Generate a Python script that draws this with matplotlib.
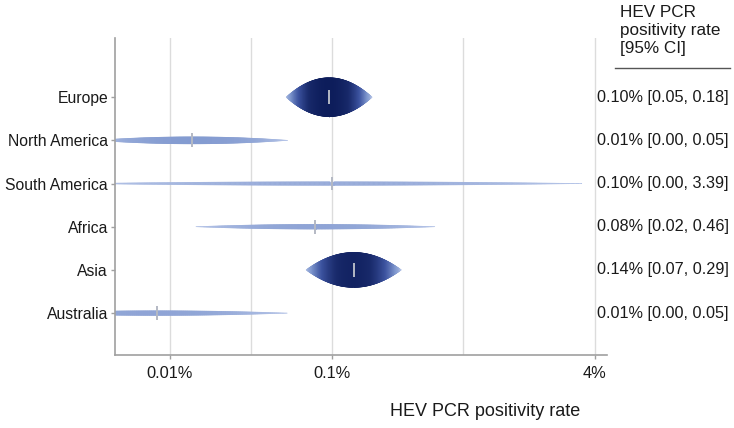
import numpy as np
import matplotlib
matplotlib.use("Agg")
import matplotlib.pyplot as plt
from matplotlib.collections import PolyCollection
from matplotlib.colors import LinearSegmentedColormap
from matplotlib.lines import Line2D
from matplotlib.ticker import FixedLocator, NullFormatter
from matplotlib.transforms import blended_transform_factory

plt.rcParams['font.family'] = ['Liberation Sans', 'DejaVu Sans']

# data (percent)
regions = ['Europe', 'North America', 'South America', 'Africa', 'Asia', 'Australia']
est_pct = [0.096, 0.0137, 0.10, 0.079, 0.136, 0.0083]
lower_pct = [0.052, 0.0035, 0.0029, 0.0145, 0.070, 0.0013]
upper_pct = [0.176, 0.053, 3.39, 0.43, 0.27, 0.053]
weights = [1.0, 0.18, 0.09, 0.12, 0.90, 0.12]
ci_labels = ['0.10% [0.05, 0.18]', '0.01% [0.00, 0.05]', '0.10% [0.00, 3.39]',
             '0.08% [0.02, 0.46]', '0.14% [0.07, 0.29]', '0.01% [0.00, 0.05]']
tick_pct = [0.01, 0.1, 4]
tick_labels = ['0.01%', '0.1%', '4%']


def logit(p):
    return np.log(p / (1 - p))


def expit(u):
    return 1 / (1 + np.exp(-u))


cmap = LinearSegmentedColormap.from_list(
    'drops', [(0.0, '#b6c5e8'), (0.1, '#92a7d7'), (0.2, '#8098cf'),
              (0.5, '#3d54a0'), (0.8, '#18296a'), (1.0, '#0d1d5b')],
)

fig = plt.figure(figsize=(7.34, 4.28), dpi=100)
ax = fig.add_axes([115 / 734, 1 - 355 / 428, (607 - 115) / 734, (355 - 38) / 428])
ax.set_xscale('logit')

ypos = np.arange(len(regions), 0, -1)
max_half = 0.45

polys, vals = [], []
for i in range(len(regions)):
    m = logit(est_pct[i] / 100)
    se = (logit(upper_pct[i] / 100) - logit(lower_pct[i] / 100)) / 3.92
    u = np.linspace(m - 1.96 * se, m + 1.96 * se, 400)
    dens = np.clip(1 - ((u - m) / (1.96 * se)) ** 2, 0, 1)
    h = weights[i] * dens
    p = expit(u)
    y = ypos[i]
    for j in range(len(u) - 1):
        polys.append([(p[j], y - max_half * h[j]), (p[j + 1], y - max_half * h[j + 1]),
                      (p[j + 1], y + max_half * h[j + 1]), (p[j], y + max_half * h[j])])
        vals.append(0.5 * (h[j] + h[j + 1]))

colors = cmap(np.array(vals))
pc = PolyCollection(polys, facecolors=colors, edgecolors=colors, linewidths=0.4, zorder=2)
ax.add_collection(pc)

for i in range(len(regions)):
    e = est_pct[i] / 100
    ax.plot([e, e], [ypos[i] - 0.16, ypos[i] + 0.16], color='#b4b9c4', lw=1.4,
            zorder=3, solid_capstyle='butt')

lo_lim, hi_lim = 4.59e-5, 0.0474
ax.set_xlim(lo_lim, hi_lim)
ax.set_ylim(0.03, 7.37)

major = [t / 100 for t in tick_pct]
minor = [expit((logit(major[k]) + logit(major[k + 1])) / 2) for k in range(len(major) - 1)]
ax.xaxis.set_major_locator(FixedLocator(major))
ax.xaxis.set_minor_locator(FixedLocator(minor))
ax.set_xticklabels(tick_labels)
ax.xaxis.set_minor_formatter(NullFormatter())
ax.grid(True, which='both', axis='x', color='#dcdcdc', lw=1.0, zorder=0)
ax.set_axisbelow(True)

ax.set_yticks(ypos)
ax.set_yticklabels(regions)
ax.tick_params(axis='both', which='major', colors='#a0a0a0', length=3, width=1,
               labelcolor='#1a1a1a', labelsize=11.8)
ax.tick_params(axis='y', labelsize=11.3, pad=2)
ax.tick_params(axis='x', which='minor', length=0)
ax.tick_params(axis='x', pad=5)

for s in ['top', 'right']:
    ax.spines[s].set_visible(False)
for s in ['left', 'bottom']:
    ax.spines[s].set_color('#a0a0a0')
    ax.spines[s].set_linewidth(1.2)

# right-hand table
tr = blended_transform_factory(fig.transFigure, ax.transData)
for i in range(len(regions)):
    ax.text(597 / 734, ypos[i], ci_labels[i], transform=tr, ha='left', va='center',
            fontsize=11.7, color='#1a1a1a', clip_on=False)

fig.text(620 / 734, 1 - 5 / 428, 'HEV PCR\npositivity rate\n[95% CI]', ha='left',
         va='top', fontsize=12.3, color='#1a1a1a', linespacing=1.27)
fig.add_artist(Line2D([615 / 734, 730 / 734], [1 - 68 / 428, 1 - 68 / 428],
                      color='#555555', lw=1.0, transform=fig.transFigure))

fig.text(485 / 734, 1 - 412 / 428, 'HEV PCR positivity rate', ha='center',
         va='center', fontsize=13, color='#1a1a1a')

fig.savefig('out.png', dpi=100)
